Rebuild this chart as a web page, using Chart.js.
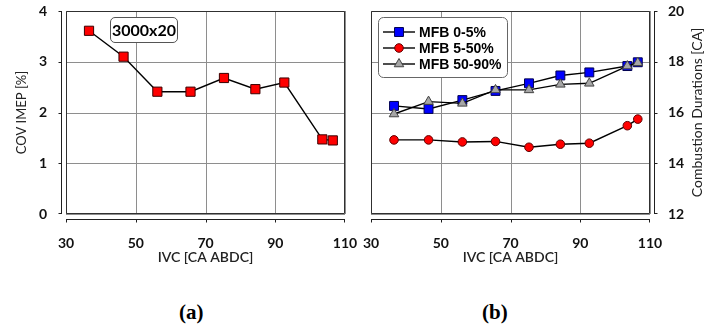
<!DOCTYPE html>
<html>
<head>
<meta charset="utf-8">
<script src="https://cdn.jsdelivr.net/npm/chart.js@4.4.1/dist/chart.umd.min.js"></script>
<style>
  html, body { margin: 0; padding: 0; background: #fff; }
  #wrap { position: relative; width: 705px; height: 329px; overflow: hidden; }
  #cA { position: absolute; left: 0; top: 0; }
  #cB { position: absolute; left: 350px; top: 0; }
  .lbl { position: absolute; top: 300px; font: bold 21px "Liberation Serif", "Times New Roman", serif; color: #000; }
  #caseTag {
    position: absolute; left: 110px; top: 17px; width: 68px; height: 26px; box-sizing: border-box;
    border: 1px solid #555; border-radius: 5px; background: #fff;
    font: bold 16px Lato, sans-serif; color: #000; text-align: center; line-height: 24px;
  }
</style>
</head>
<body>
<div id="wrap">
  <canvas id="cA" width="370" height="275"></canvas>
  <canvas id="cB" width="355" height="275"></canvas>
  <div id="caseTag"></div>
  <div class="lbl" style="left:179px">(a)</div>
  <div class="lbl" style="left:482px">(b)</div>
</div>
<script>
// Intake valve closing timing, CA after BDC
const ivc = [36.6, 46.5, 56.2, 65.7, 75.3, 84.3, 92.6, 103.5, 106.5];
// (a) cycle-to-cycle variation of IMEP, %
const covImep = [3.61, 3.10, 2.41, 2.41, 2.68, 2.46, 2.59, 1.47, 1.45];
// (b) combustion durations, CA
const mfb0to5 = [16.26, 16.14, 16.49, 16.85, 17.15, 17.46, 17.58, 17.83, 17.98];
const mfb5to50 = [14.92, 14.92, 14.84, 14.86, 14.63, 14.75, 14.79, 15.48, 15.74];
const mfb50to90 = [15.94, 16.43, 16.36, 16.89, 16.89, 17.11, 17.15, 17.83, 17.96];

const xTicks = [30, 50, 70, 90, 110];
const covTicks = [0, 1, 2, 3, 4];
const durTicks = [12, 14, 16, 18, 20];
const seriesNames = ['MFB 0-5%', 'MFB 5-50%', 'MFB 50-90%'];
const caseLabel = '3000x20';

document.getElementById('caseTag').textContent = caseLabel;

const pts = ys => ys.map((y, i) => ({ x: ivc[i], y }));

const TICK_FONT = { family: 'Lato', size: 14, weight: 'bold' };
const GRID = '#8e8e8e';

// Grid, plot frame and axis lines set slightly away from the plot, with short tick marks
const frameAxes = {
  id: 'frameAxes',
  beforeDatasetsDraw(chart, args, opts) {
    const { ctx, chartArea: a, scales } = chart;
    const L = Math.round(a.left), T = Math.round(a.top), R = Math.round(a.right), B = Math.round(a.bottom);
    const right = opts.side === 'right';
    const yVals = right ? durTicks : covTicks;
    ctx.save();
    // grid
    ctx.fillStyle = GRID;
    xTicks.forEach(v => {
      const px = Math.round(scales.x.getPixelForValue(v));
      ctx.fillRect(px, T, 1, B - T);
    });
    yVals.forEach(v => {
      const py = Math.round(scales.y.getPixelForValue(v));
      ctx.fillRect(L, py, R - L, 1);
    });
    // frame
    ctx.lineWidth = 1;
    ctx.strokeStyle = '#303030';
    ctx.beginPath();
    ctx.rect(L + 0.5, T + 0.5, R - L - 1, B - T - 1);
    ctx.stroke();
    // offset axes
    ctx.strokeStyle = '#202020';
    const gap = 5, tl = 3;
    ctx.beginPath();
    const yb = B + gap + 0.5;
    ctx.moveTo(L, yb); ctx.lineTo(R, yb);
    xTicks.forEach(v => {
      const px = Math.round(scales.x.getPixelForValue(v)) + (v === 110 ? -0.5 : 0.5);
      ctx.moveTo(px, yb); ctx.lineTo(px, yb + tl);
    });
    const ys = scales.y;
    const xl = right ? R + gap - 0.5 : L - gap + 0.5;
    const dir = right ? 1 : -1;
    ctx.moveTo(xl, T); ctx.lineTo(xl, B);
    yVals.forEach(v => {
      const py = Math.round(ys.getPixelForValue(v)) + (v === ys.min ? -0.5 : 0.5);
      ctx.moveTo(xl, py); ctx.lineTo(xl + dir * tl, py);
    });
    ctx.stroke();
    ctx.restore();
  }
};

function roundBox(ctx, x, y, w, h, r) {
  ctx.beginPath();
  ctx.moveTo(x + r, y);
  ctx.arcTo(x + w, y, x + w, y + h, r);
  ctx.arcTo(x + w, y + h, x, y + h, r);
  ctx.arcTo(x, y + h, x, y, r);
  ctx.arcTo(x, y, x + w, y, r);
  ctx.closePath();
}

// Boxed legend in the upper-left corner of the plot
const boxLegend = {
  id: 'boxLegend',
  afterDraw(chart, args, opts) {
    if (!opts.show) return;
    const { ctx, chartArea: a } = chart;
    const x = Math.round(a.left) + 7, y = Math.round(a.top) + 6, w = 129, h = 60;
    ctx.save();
    roundBox(ctx, x + 0.5, y + 0.5, w, h, 5);
    ctx.fillStyle = '#fff';
    ctx.fill();
    ctx.strokeStyle = '#666';
    ctx.lineWidth = 1;
    ctx.stroke();
    ctx.font = 'bold 14px "Liberation Sans", Arial, sans-serif';
    ctx.textBaseline = 'middle';
    chart.data.datasets.forEach((ds, i) => {
      const cy = y + 15 + i * 16;
      ctx.strokeStyle = ds.borderColor;
      ctx.lineWidth = ds.borderWidth;
      ctx.beginPath();
      ctx.moveTo(x + 5, cy); ctx.lineTo(x + 37, cy);
      ctx.stroke();
      ctx.fillStyle = ds.pointBackgroundColor;
      ctx.strokeStyle = ds.pointBorderColor;
      ctx.lineWidth = ds.pointBorderWidth;
      Chart.helpers.drawPoint(ctx, {
        pointStyle: ds.pointStyle, radius: ds.pointRadius,
        borderWidth: ds.pointBorderWidth, rotation: 0
      }, x + 21, cy);
      ctx.fillStyle = '#000';
      ctx.fillText(ds.label, x + 41, cy + 1);
    });
    ctx.restore();
  }
};

// Right-hand axis title reading bottom-to-top
const rightTitle = {
  id: 'rightTitle',
  afterDraw(chart, args, opts) {
    if (!opts.text) return;
    const { ctx, chartArea: a } = chart;
    ctx.save();
    ctx.translate(a.right + 47, (a.top + a.bottom) / 2);
    ctx.rotate(-Math.PI / 2);
    ctx.font = '14px Lato';
    ctx.fillStyle = '#222';
    ctx.textAlign = 'center';
    ctx.textBaseline = 'middle';
    ctx.fillText(opts.text, 0, 0);
    ctx.restore();
  }
};

function xScale() {
  return {
    type: 'linear', min: 30, max: 110,
    afterBuildTicks: s => { s.ticks = xTicks.map(v => ({ value: v })); },
    afterFit: s => { s.height = 61; s.paddingLeft = 0; s.paddingRight = 0; },
    grid: { display: false },
    border: { display: false },
    ticks: { font: TICK_FONT, color: '#111', padding: 13, maxRotation: 0, autoSkip: false },
    title: {
      display: true, text: 'IVC [CA ABDC]', color: '#222',
      font: { family: 'Lato', size: 14, weight: '600' },
      padding: { top: 0, bottom: 9 }
    }
  };
}

const lineStyle = { borderColor: '#000', borderWidth: 1.4, tension: 0, pointBorderWidth: 1 };

// (a) COV of IMEP
new Chart(document.getElementById('cA'), {
  type: 'line',
  data: {
    datasets: [{
      label: 'COV IMEP',
      data: pts(covImep),
      ...lineStyle,
      pointStyle: 'rect', pointRadius: 6.5, pointHoverRadius: 6.5,
      pointBackgroundColor: '#ff0000', pointBorderColor: '#3a0000'
    }]
  },
  options: {
    responsive: false, animation: false, events: [],
    layout: { autoPadding: false, padding: { left: 0, right: 25, top: 11, bottom: 0 } },
    plugins: {
      legend: { display: false }, tooltip: { enabled: false },
      frameAxes: { side: 'left' }
    },
    scales: {
      x: xScale(),
      y: {
        type: 'linear', min: 0, max: 4,
        afterBuildTicks: s => { s.ticks = covTicks.map(v => ({ value: v })); },
        afterFit: s => { s.width = 66; s.paddingTop = 0; s.paddingBottom = 0; },
        grid: { display: false },
        border: { display: false },
        ticks: { font: TICK_FONT, color: '#111', padding: 11 },
        title: {
          display: true, text: 'COV IMEP [%]', color: '#222',
          font: { family: 'Lato', size: 13 },
          padding: { top: 14, bottom: 0 }
        }
      }
    }
  },
  plugins: [frameAxes]
});

// (b) combustion durations
new Chart(document.getElementById('cB'), {
  type: 'line',
  data: {
    datasets: [
      {
        label: seriesNames[0], data: pts(mfb0to5), ...lineStyle, order: 3,
        pointStyle: 'rect', pointRadius: 6.3, pointHoverRadius: 6.3,
        pointBackgroundColor: '#0000ff', pointBorderColor: '#000050'
      },
      {
        label: seriesNames[1], data: pts(mfb5to50), ...lineStyle, order: 2,
        pointStyle: 'circle', pointRadius: 4.3, pointHoverRadius: 4.3,
        pointBackgroundColor: '#ff0000', pointBorderColor: '#600000'
      },
      {
        label: seriesNames[2], data: pts(mfb50to90), ...lineStyle, order: 1,
        pointStyle: 'triangle', pointRadius: 5.5, pointHoverRadius: 5.5,
        pointBackgroundColor: '#a6a6a6', pointBorderColor: '#444'
      }
    ]
  },
  options: {
    responsive: false, animation: false, events: [],
    layout: { autoPadding: false, padding: { left: 21, right: 0, top: 11, bottom: 0 } },
    plugins: {
      legend: { display: false }, tooltip: { enabled: false },
      frameAxes: { side: 'right' },
      boxLegend: { show: true },
      rightTitle: { text: 'Combustion Durations [CA]' }
    },
    scales: {
      x: xScale(),
      y: {
        type: 'linear', position: 'right', min: 12, max: 20,
        afterBuildTicks: s => { s.ticks = durTicks.map(v => ({ value: v })); },
        afterFit: s => { s.width = 55; s.paddingTop = 0; s.paddingBottom = 0; },
        grid: { display: false },
        border: { display: false },
        ticks: { font: TICK_FONT, color: '#111', padding: 10 }
      }
    }
  },
  plugins: [frameAxes, boxLegend, rightTitle]
});
</script>
</body>
</html>
